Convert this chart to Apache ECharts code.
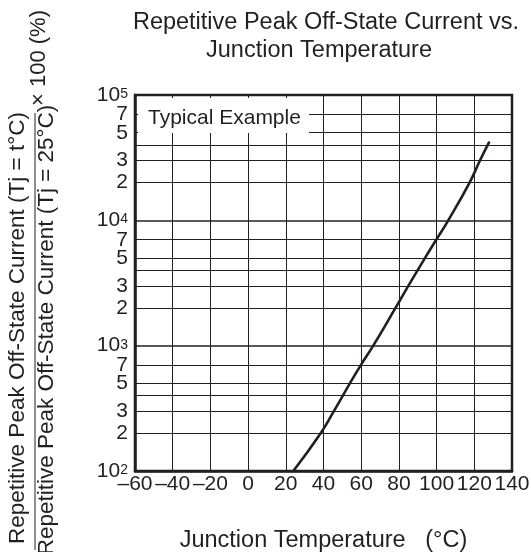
<!DOCTYPE html>
<html>
<head>
<meta charset="utf-8">
<script src="https://cdn.jsdelivr.net/npm/echarts@6/dist/echarts.min.js"></script>
<style>html,body{margin:0;padding:0;background:#fff;}#c{width:531px;height:552px;}</style>
</head>
<body>
<div id="c"></div>
<script>
// Junction temperature (°C)
const temps = [24.0, 38.5, 45.5, 54.0, 59.8, 66.4, 78.2, 85.0, 93.8, 99.8, 106.2, 117.5, 123.0, 128.0];
// Ratio (%) at those temperatures
const ratios = [100, 200, 300, 500, 700, 1000, 2000, 3000, 5000, 7000, 10000, 20000, 30000, 42400];
// Horizontal grid lines
const yGridValues = [200, 300, 400, 500, 700, 1000, 2000, 3000, 4000, 5000, 7000, 10000, 20000, 30000, 40000, 50000, 70000];
// Y tick labels: decades and intermediate digits
const yDecadeLabels = [100, 1000, 10000, 100000];
const yMinorLabels = [200, 300, 500, 700, 2000, 3000, 5000, 7000, 20000, 30000, 50000, 70000];
const xMin = -60, xMax = 140, xStep = 20;
const yMin = 100, yMax = 100000;

const FONT = 'Liberation Sans, Arial, Helvetica, sans-serif';
const INK = '#231f20';

const chart = echarts.init(document.getElementById('c'));

const leadDigit = v => Math.round(v / Math.pow(10, Math.floor(Math.log10(v) + 1e-9)));
function yLabelFmt(v) {
  const e = Math.round(Math.log10(v));
  if (Math.abs(Math.pow(10, e) - v) < 1e-6 * v) {
    return '{b|10}{s|' + e + '}';
  }
  return '{b|' + leadDigit(v) + '}';
}
// keep the top label inside the axis extent despite float rounding in log()
const clampTop = arr => arr.map(v => v >= yMax ? yMax * (1 - 1e-9) : v);

const richLabel = {
  b: { fontFamily: FONT, fontSize: 21, color: INK, lineHeight: 16 },
  s: { fontFamily: FONT, fontSize: 14, color: INK, verticalAlign: 'top', lineHeight: 16, padding: [0, 0, 10, 0] }
};

function makeYAxis(labels, showLine) {
  return {
    type: 'log', logBase: 10, min: yMin, max: yMax, position: 'left',
    axisLine: { show: showLine, onZero: false, lineStyle: { color: INK, width: 2.5 } },
    axisTick: { show: false },
    splitLine: { show: false },
    axisLabel: {
      customValues: clampTop(labels),
      showMaxLabel: true, showMinLabel: true, hideOverlap: false,
      margin: 7, formatter: yLabelFmt, rich: richLabel
    }
  };
}

// one label axis per leading digit so that close labels never get culled
const digitGroups = [2, 3, 5, 7].map(d => yMinorLabels.filter(v => leadDigit(v) === d));
const yAxes = [makeYAxis(yDecadeLabels, true)].concat(digitGroups.map(g => makeYAxis(g, false)));

chart.setOption({
  animation: false,
  backgroundColor: '#fff',
  title: [
    {
      text: 'Repetitive Peak Off-State Current vs.',
      left: 321, top: 6, textAlign: 'center',
      textStyle: { fontFamily: FONT, fontSize: 23.5, fontWeight: 'normal', color: INK }
    },
    {
      text: 'Junction Temperature',
      left: 314, top: 34, textAlign: 'center',
      textStyle: { fontFamily: FONT, fontSize: 23.5, fontWeight: 'normal', color: INK }
    }
  ],
  grid: {
    left: 135, right: 19, top: 95, bottom: 81,
    outerBoundsMode: 'none', containLabel: false,
    show: true, borderColor: INK, borderWidth: 2.5, backgroundColor: 'transparent'
  },
  xAxis: {
    type: 'value', min: xMin, max: xMax, interval: xStep,
    name: 'Junction Temperature   (°C)',
    nameLocation: 'middle', nameGap: 58,
    nameTextStyle: { fontFamily: FONT, fontSize: 23.5, color: INK },
    axisLine: { show: true, onZero: false, lineStyle: { color: INK, width: 2.5 } },
    axisTick: { show: false },
    splitLine: { show: true, lineStyle: { color: INK, width: 1 } },
    axisLabel: {
      fontFamily: FONT, fontSize: 21, color: INK, margin: 3, hideOverlap: false,
      formatter: v => String(v).replace('-', '\u2013')
    }
  },
  yAxis: yAxes,
  series: [
    {
      type: 'line', data: [], z: 1, silent: true,
      markLine: {
        silent: true, symbol: 'none', animation: false,
        label: { show: false },
        lineStyle: { color: INK, width: 1, type: 'solid' },
        data: yGridValues.map(v => ({
          yAxis: v,
          lineStyle: { color: INK, type: 'solid', width: (Math.abs(Math.log10(v) - Math.round(Math.log10(v))) < 1e-9) ? 1.6 : 1 }
        }))
      }
    },
    {
      type: 'line', z: 5,
      data: temps.map((t, i) => [t, ratios[i]]),
      smooth: 0.5, showSymbol: false, symbol: 'none',
      lineStyle: { color: INK, width: 2.6 }
    }
  ],
  graphic: [
    { type: 'rect', z: 50, shape: { x: 138, y: 98, width: 171, height: 35 }, style: { fill: '#fff' } },
    { type: 'text', z: 51, x: 148, y: 118, style: { text: 'Typical Example', font: '21px ' + FONT, fill: INK, textAlign: 'left', textVerticalAlign: 'middle', align: 'left', verticalAlign: 'middle' } },
    { type: 'text', z: 51, x: 18, y: 328, rotation: Math.PI / 2, style: { text: 'Repetitive Peak Off-State Current (Tj = t°C)', font: '22.5px ' + FONT, fill: INK, textAlign: 'center', textVerticalAlign: 'middle', align: 'center', verticalAlign: 'middle' } },
    { type: 'line', z: 51, shape: { x1: 35, y1: 113, x2: 35, y2: 550 }, style: { stroke: INK, lineWidth: 1 } },
    { type: 'text', z: 51, x: 47, y: 330, rotation: Math.PI / 2, style: { text: 'Repetitive Peak Off-State Current (Tj = 25°C)', font: '22.5px ' + FONT, fill: INK, textAlign: 'center', textVerticalAlign: 'middle', align: 'center', verticalAlign: 'middle' } },
    { type: 'text', z: 51, x: 39, y: 58, rotation: Math.PI / 2, style: { text: '× 100 (%)', font: '22px ' + FONT, fill: INK, textAlign: 'center', textVerticalAlign: 'middle', align: 'center', verticalAlign: 'middle' } }
  ]
});
</script>
</body>
</html>
